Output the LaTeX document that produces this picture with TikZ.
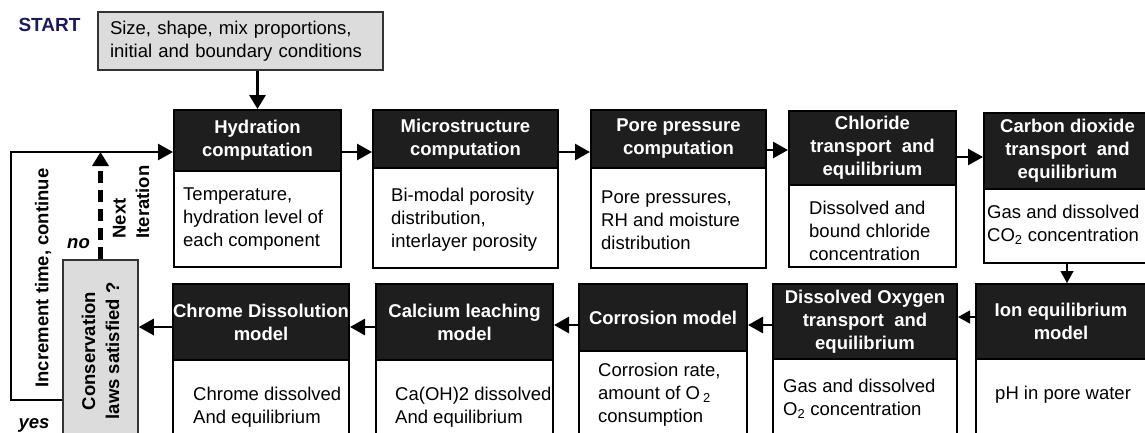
\documentclass[tikz,border=0pt]{standalone}
\usepackage{fontspec}
\setmainfont{Liberation Sans}
\usetikzlibrary{arrows.meta}
\definecolor{hdrfill}{HTML}{1E1E1E}
\definecolor{grayfill}{HTML}{DCDCDC}
\definecolor{navy}{HTML}{1A1A5E}
\begin{document}
\begin{tikzpicture}[x=1pt,y=-1pt,
  every node/.style={font=\fontsize{18.5}{23}\selectfont},
  hdr/.style={draw=black, line width=2pt, fill=hdrfill, text=white,
    font=\fontsize{18.5}{23}\selectfont\bfseries, align=center, inner sep=0pt},
  bodybox/.style={draw=black, line width=2pt, fill=white, inner sep=0pt},
  bodytext/.style={anchor=west, align=left, inner sep=0pt},
  graybox/.style={draw=black!80, line width=1.5pt, fill=grayfill},
  lbl/.style={inner sep=0pt, font=\fontsize{18.5}{23}\selectfont\bfseries},
  bigarrow/.style={line width=2.8pt, -{Triangle[length=15pt,width=16pt]}},
  thinarrow/.style={line width=1.3pt, -{Triangle[length=12pt,width=13pt]}},
]
\path[use as bounding box] (0,0) rectangle (1145,432);
\clip (0,0) rectangle (1145,432);

% ---------- top row ----------
\node[bodybox, minimum width=167, minimum height=96] (b1) at (257.5,219) {};
\node[hdr, minimum width=167, minimum height=61] (h1) at (257.5,140.5) {Hydration\\computation};
\node[bodytext] (t1) at (183,219.5) {Temperature,\\hydration level of\\each component};

\node[bodybox, minimum width=185, minimum height=100] (b2) at (465.5,218) {};
\node[hdr, minimum width=185, minimum height=58] (h2) at (465.5,139) {Microstructure\\computation};
\node[bodytext] (t2) at (391,220) {Bi-modal porosity\\distribution,\\interlayer porosity};

\node[bodybox, minimum width=175, minimum height=100] (b3) at (678.5,218) {};
\node[hdr, minimum width=175, minimum height=58] (h3) at (678.5,139) {Pore pressure\\computation};
\node[bodytext] (t3) at (601,220) {Pore pressures,\\RH and moisture\\distribution};

\node[bodybox, minimum width=167, minimum height=82] (b4) at (872.5,226) {};
\node[hdr, minimum width=167, minimum height=74] (h4) at (872.5,148) {Chloride\\transport\ \ and\\equilibrium};
\node[bodytext] (t4) at (809,231) {Dissolved and\\bound chloride\\concentration};

\node[bodybox, minimum width=167, minimum height=74] (b5) at (1067.5,226) {};
\node[hdr, minimum width=167, minimum height=76] (h5) at (1067.5,151) {Carbon dioxide\\transport\ \ and\\equilibrium};
\node[bodytext] (t5) at (987,224.5) {Gas and dissolved\\CO\textsubscript{2} concentration};

% ---------- bottom row ----------
\node[bodybox, minimum width=170, minimum height=86] (b6) at (1061,402) {};
\node[hdr, minimum width=170, minimum height=75] (h6) at (1061,321.5) {Ion equilibrium\\model};
\node[bodytext] (t6) at (995,395) {pH in pore water};

\node[bodybox, minimum width=184, minimum height=86] (b7) at (865,402) {};
\node[hdr, minimum width=184, minimum height=75] (h7) at (865,321.5) {Dissolved Oxygen\\transport\ \ and\\equilibrium};
\node[bodytext] (t7) at (783,398.5) {Gas and dissolved\\O\textsubscript{2} concentration};

\node[bodybox, minimum width=168, minimum height=94] (b8) at (663,398) {};
\node[hdr, minimum width=168, minimum height=67] (h8) at (663,317.5) {Corrosion model};
\node[bodytext] (t8) at (598,394.5) {Corrosion rate,\\amount of O\,\textsubscript{2}\\consumption};

\node[bodytext] (t9) at (395,407) {Ca(OH)2 dissolved\\And equilibrium};
\node[bodybox, fill=none, minimum width=177, minimum height=85] (b9) at (464.5,402.5) {};
\node[hdr, minimum width=177, minimum height=76] (h9) at (464.5,322) {Calcium leaching\\model};

\node[bodybox, minimum width=176, minimum height=85] (b10) at (261,402.5) {};
\node[hdr, minimum width=176, minimum height=76] (h10) at (261,322) {Chrome Dissolution\\model};
\node[bodytext] (t10) at (193,407) {Chrome dissolved\\And equilibrium};

% ---------- start ----------
\node[lbl, text=navy, font=\fontsize{19}{23}\selectfont\bfseries] (startlbl) at (49.5,25) {START};
\node[graybox, minimum width=285, minimum height=58, text width=261, inner xsep=12pt, inner ysep=0pt, align=left] (start) at (240.5,41)
  {Size, shape, mix proportions,\\initial and boundary conditions};

% ---------- conservation check ----------
\node[graybox, rotate=90, minimum width=182, minimum height=75, align=center, inner sep=0pt,
  font=\fontsize{18.5}{24}\selectfont\bfseries] (cons) at (100.5,351) {Conservation\\laws satisfied ?};

\node[lbl, rotate=90] (inc) at (43,278) {Increment time, continue};
\node[lbl, rotate=90, align=left, font=\fontsize{18.5}{23.5}\selectfont\bfseries] (next) at (131,202) {Next\\Iteration};
\node[lbl, font=\fontsize{18.5}{23}\selectfont\bfseries\itshape] (no) at (78.5,244) {no};
\node[lbl, font=\fontsize{18.5}{23}\selectfont\bfseries\itshape] (yes) at (34,425) {yes};

% ---------- connectors ----------
\coordinate (row1) at (0,152);
\coordinate (row1c) at (0,150);
\coordinate (row1b) at (0,157);
\coordinate (col5) at (1067,0);
\coordinate (row2a) at (0,317);
\coordinate (row2) at (0,325);
\coordinate (row2b) at (0,327);
\coordinate (looptop) at (11,152);
\coordinate (yesrow) at (0,400);

\draw[line width=3pt, -{Triangle[length=14pt,width=16pt]}] (start.south -| h1.north) -- (h1.north);

\draw[bigarrow] (h1.east |- row1) -- (h2.west |- row1);
\draw[bigarrow] (h2.east |- row1) -- (h3.west |- row1);
\draw[bigarrow] (h3.east |- row1c) -- (h4.west |- row1c);
\draw[bigarrow] (h4.east |- row1b) -- (h5.west |- row1b);

\draw[thinarrow] (b5.south -| col5) -- (h6.north -| col5);
\draw[thinarrow] (h6.west |- row2a) -- (h7.east |- row2a);
\draw[bigarrow] (h7.west |- row2) -- (h8.east |- row2);
\draw[bigarrow] (h8.west |- row2) -- (h9.east |- row2);
\draw[bigarrow] (h9.west |- row2b) -- (h10.east |- row2b);
\draw[bigarrow] (h10.west |- row2b) -- (cons.south |- row2b);

\draw[bigarrow] (cons.north |- yesrow) -| (looptop) -- (h1.west |- looptop);
\draw[line width=4.5pt, dash pattern=on 12pt off 7pt, -{Triangle[length=14pt,width=16pt]}]
  (cons.east) -- (cons.east |- looptop);
\end{tikzpicture}
\end{document}
